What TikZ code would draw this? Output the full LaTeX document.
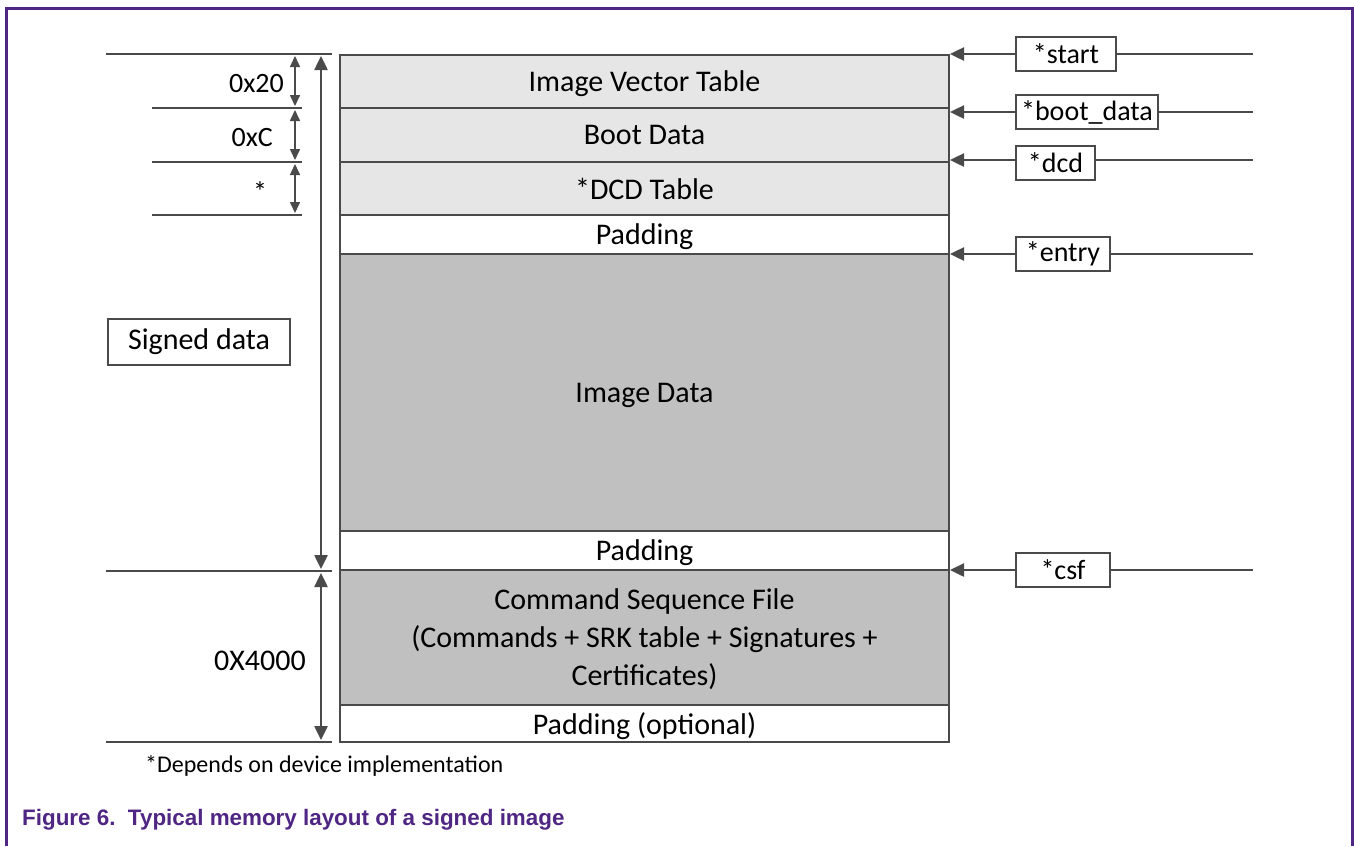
\documentclass[tikz,border=0pt]{standalone}
\usepackage{fontspec}
\setmainfont{Carlito}
\newfontfamily\capfont{Liberation Sans}
\usetikzlibrary{arrows.meta}
\definecolor{framepurple}{HTML}{4F2683}
\definecolor{linegray}{HTML}{4A4A4A}
\definecolor{lightfill}{HTML}{E6E6E6}
\definecolor{darkfill}{HTML}{C0C0C0}
\tikzset{
  memrow/.style={draw=linegray, line width=2.5, minimum width=609, inner sep=0,
    font=\fontsize{30}{38}\selectfont, align=center, text=black, text depth=0pt},
  tagbox/.style={draw=linegray, line width=2.5, inner sep=0, minimum height=34,
    font=\fontsize{28}{30}\selectfont},
  rule/.style={draw=linegray, line width=2.5},
  ptr/.style={draw=linegray, line width=2.5, -{Triangle[length=14,width=13]}},
  dim/.style={draw=linegray, line width=1.6, {Triangle[length=11,width=10]}-{Triangle[length=11,width=10]}},
  bigdim/.style={draw=linegray, line width=2.5, {Triangle[length=14,width=13]}-{Triangle[length=14,width=13]}},
  lbl/.style={font=\fontsize{28}{30}\selectfont, inner sep=0}
}
\begin{document}
\begin{tikzpicture}[x=1pt,y=-1pt]
\useasboundingbox (0,0) rectangle (1354,846);
% outer frame, open at the bottom
\draw[framepurple, line width=3] (6,846) -- (6,8) -- (1352,8) -- (1352,846);

% memory map rows
\node[memrow, fill=lightfill, minimum height=53] (ivt) at (644.5,81.5) {Image Vector Table};
\node[memrow, fill=lightfill, minimum height=54] (boot) at (644.5,135) {Boot Data};
\node[memrow, fill=lightfill, minimum height=53] (dcd) at (644.5,188.5) {*DCD Table};
\node[memrow, fill=white, minimum height=39] (pad1) at (644.5,234.5) {Padding};
\node[memrow, fill=darkfill, minimum height=277] (img) at (644.5,392.5) {Image Data};
\node[memrow, fill=white, minimum height=39] (pad2) at (644.5,550.5) {Padding};
\node[memrow, fill=darkfill, minimum height=135] (csf) at (644.5,637.5)
  {Command Sequence File\\(Commands + SRK table + Signatures +\\Certificates)};
\node[memrow, fill=white, minimum height=37] (pad3) at (644.5,723.5) {Padding (optional)};

% left-hand reference lines
\coordinate (t0a) at (106,54);  \coordinate (t0b) at (332,54);
\coordinate (t1a) at (152,108); \coordinate (t1b) at (302,108);
\coordinate (t2a) at (152,162); \coordinate (t2b) at (302,162);
\coordinate (t3a) at (152,215); \coordinate (t3b) at (302,215);
\coordinate (t4a) at (106,571); \coordinate (t4b) at (332,571);
\coordinate (t5a) at (106,742); \coordinate (t5b) at (332,742);
\foreach \n in {0,...,5} \draw[rule] (t\n a) -- (t\n b);

% header size dimensions
\coordinate (d0) at (295,56);  \coordinate (d1a) at (295,106);
\coordinate (d1b) at (295,110); \coordinate (d2a) at (295,160);
\coordinate (d2b) at (295,164); \coordinate (d3) at (295,213);
\draw[dim] (d0) -- (d1a);
\draw[dim] (d1b) -- (d2a);
\draw[dim] (d2b) -- (d3);
\node[lbl, anchor=east] (l20) at (284,84) {0x20};
\node[lbl, anchor=east] (lC) at (273,138) {0xC};
\node[lbl] (lst) at (260,192) {*};

% signed region and CSF size
\coordinate (s0) at (321,56); \coordinate (s1) at (321,569);
\coordinate (s2) at (321,573); \coordinate (s3) at (321,740);
\draw[bigdim] (s0) -- (s1);
\draw[bigdim] (s2) -- (s3);
\node[draw=linegray, line width=2.5, minimum width=182, minimum height=46, inner sep=0,
  font=\fontsize{30}{32}\selectfont] (signed) at (199,342) {Signed data};
\node[lbl, font=\fontsize{30}{32}\selectfont] (l4000) at (260,661) {0X4000};

% pointers on the right
\node[tagbox, minimum width=100] (pstart) at (1066,54) {*start};
\node[tagbox, minimum width=142] (pboot) at (1087,112) {*boot\_data};
\node[tagbox, minimum width=79] (pdcd) at (1055.5,163) {*dcd};
\node[tagbox, minimum width=94] (pentry) at (1063,254) {*entry};
\node[tagbox, minimum width=94] (pcsf) at (1063,570) {*csf};

\coordinate (a1) at (950,54);  \coordinate (e1) at (1253,54);
\coordinate (a2) at (950,112); \coordinate (e2) at (1253,112);
\coordinate (a3) at (950,160); \coordinate (e3) at (1253,160);
\coordinate (a4) at (950,254); \coordinate (e4) at (1253,254);
\coordinate (a5) at (950,570); \coordinate (e5) at (1253,570);

\draw[ptr] (pstart.west) -- (a1);  \draw[rule] (pstart.east) -- (e1);
\draw[ptr] (pboot.west) -- (a2);   \draw[rule] (pboot.east) -- (e2);
\draw[ptr] (pdcd.west |- a3) -- (a3); \draw[rule] (pdcd.east |- e3) -- (e3);
\draw[ptr] (pentry.west) -- (a4);  \draw[rule] (pentry.east) -- (e4);
\draw[ptr] (pcsf.west) -- (a5);    \draw[rule] (pcsf.east) -- (e5);

% footnote and caption
\node[anchor=west, inner sep=0, font=\fontsize{24}{26}\selectfont] (note) at (145,766)
  {*Depends on device implementation};
\node[anchor=west, inner sep=0, text=framepurple, font=\capfont\bfseries\fontsize{22.4}{24}\selectfont]
  (cap) at (22,820) {Figure 6.\ \ Typical memory layout of a signed image};
\end{tikzpicture}
\end{document}
